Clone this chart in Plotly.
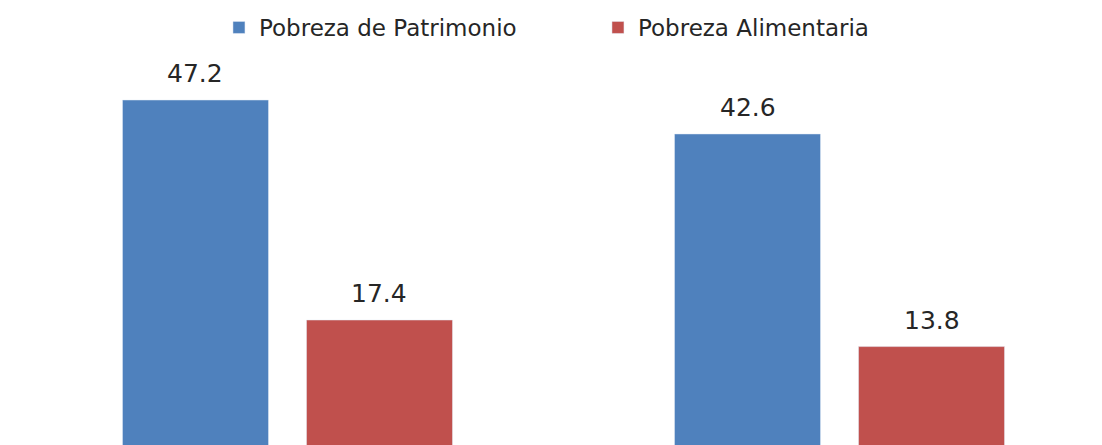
import plotly.graph_objects as go

categories = ["Grupo 1", "Grupo 2"]
patrimonio = [47.2, 42.6]
alimentaria = [17.4, 13.8]

BLUE = "#4F81BD"
RED = "#C0504D"
FONT = "DejaVu Sans"

bw = 146 / 552
half_gap = 19 / 552

fig = go.Figure()
fig.add_trace(go.Bar(name="Pobreza de Patrimonio", x=categories, y=patrimonio,
                     marker_color=BLUE, width=bw, offset=-bw - half_gap))
fig.add_trace(go.Bar(name="Pobreza Alimentaria", x=categories, y=alimentaria,
                     marker_color=RED, width=bw, offset=half_gap))

for vals, sh in ((patrimonio, -92), (alimentaria, 92)):
    for c, v in zip(categories, vals):
        fig.add_annotation(x=c, y=v, text=f"{v:.1f}", showarrow=False,
                           xshift=sh, yshift=10, yanchor="bottom",
                           font=dict(family=FONT, size=25, color="#262626"))

fig.update_layout(
    width=1102, height=445,
    margin=dict(l=0, r=0, t=60, b=0),
    barmode="overlay",
    plot_bgcolor="white", paper_bgcolor="white",
    showlegend=True,
    legend=dict(orientation="h", x=0.1987, xanchor="left", y=0.9865, yref="container",
                yanchor="top", font=dict(family=FONT, size=23, color="#262626"),
                entrywidth=334, entrywidthmode="pixels", traceorder="normal"),
    xaxis=dict(type="category", range=[-0.5208, 1.4755], showticklabels=False,
               showgrid=False, zeroline=False, showline=False),
    yaxis=dict(range=[0.47, 52.62], showticklabels=False, showgrid=False,
               zeroline=False, showline=False),
)

fig.write_html("out.html")
